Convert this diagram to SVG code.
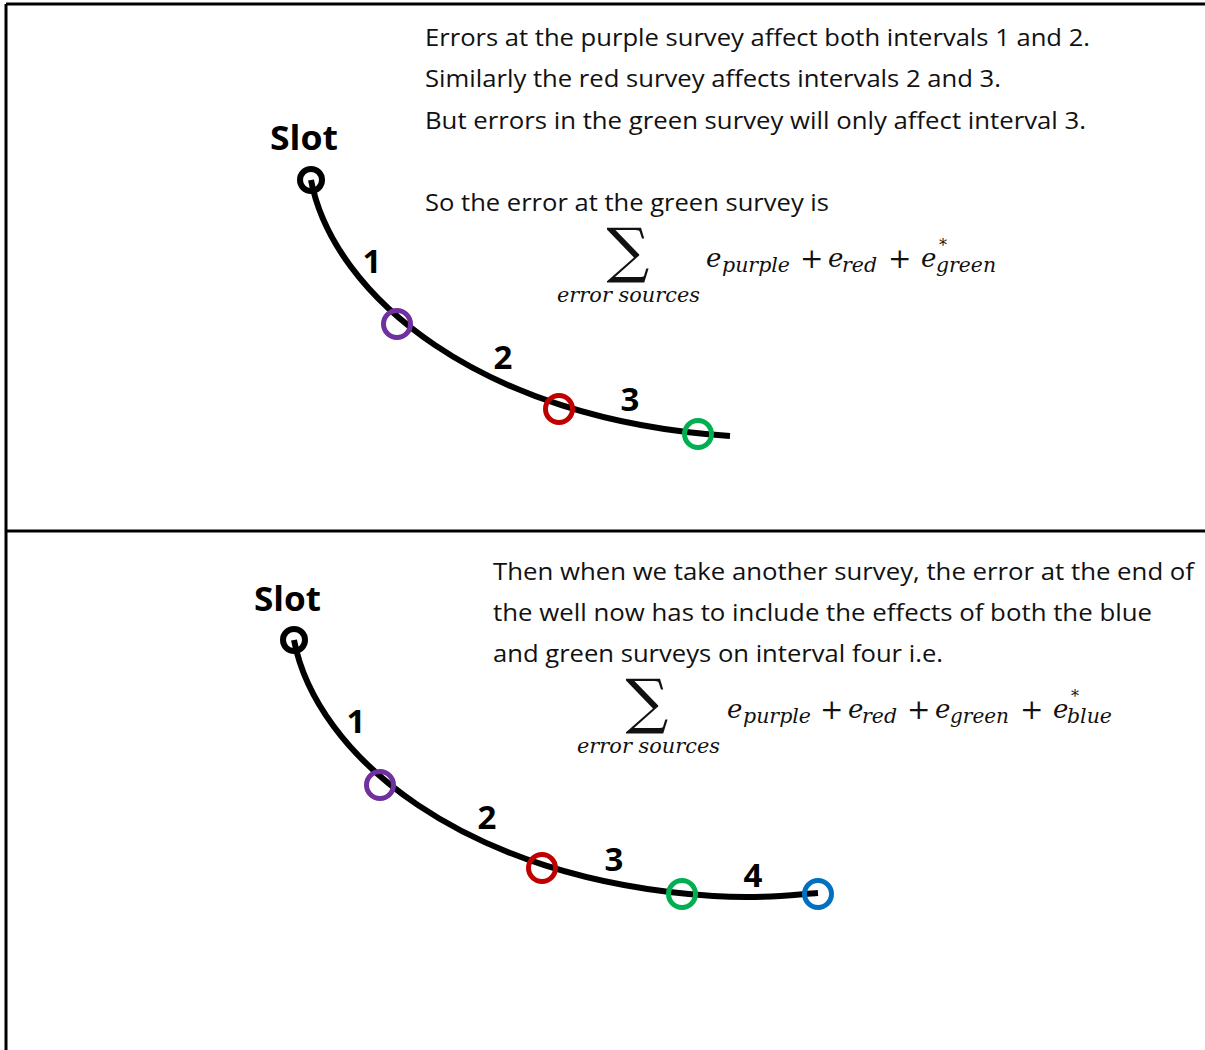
<svg xmlns="http://www.w3.org/2000/svg" width="1205" height="1050" viewBox="0 0 1205 1050">
<style>
.t{font-family:"Open Sans","Liberation Sans",sans-serif;font-size:24px;fill:#111}
.b{font-family:"Open Sans","Liberation Sans",sans-serif;font-weight:bold;fill:#000}
.m{font-family:"DejaVu Serif","Liberation Serif",serif;font-style:italic;fill:#111}
.s{font-family:"DejaVu Serif","Liberation Serif",serif;fill:#111}
.well{fill:none;stroke:#000;stroke-width:6}
.ring{fill:none;stroke-width:5}
.slot{fill:none;stroke:#000;stroke-width:6}
</style>
<rect width="1205" height="1050" fill="#fff"/>
<g id="frame" stroke="#000" stroke-width="3">
<line x1="6" y1="4" x2="1205" y2="4"/>
<line x1="6" y1="4" x2="6" y2="1050"/>
<line x1="6" y1="531" x2="1205" y2="531"/>
</g>
<g id="connectors">
<path class="well" d="M311,180 C333,295 480,420 730,436"/>
<path class="well" d="M294,640 C316,755 463,880 713,896 C760,899 790,895 818,893"/>
</g>
<g id="top-panel">
<g id="slot-top"><text class="b" x="270" y="150" font-size="34" textLength="68" lengthAdjust="spacingAndGlyphs">Slot</text><circle class="slot" cx="311" cy="180" r="11"/></g>
<g id="purple-top"><circle class="ring" cx="397" cy="324" r="13.5" stroke="#7030A0"/></g>
<g id="red-top"><circle class="ring" cx="559" cy="409" r="13.5" stroke="#C00000"/></g>
<g id="green-top"><circle class="ring" cx="698" cy="434" r="13.5" stroke="#00B050"/></g>
<g id="labels-top">
<text class="b" x="372" y="273" font-size="33" text-anchor="middle">1</text>
<text class="b" x="503" y="369" font-size="33" text-anchor="middle">2</text>
<text class="b" x="630" y="411" font-size="33" text-anchor="middle">3</text>
</g>
<g id="text-top">
<text class="t" x="425" y="46" textLength="665" lengthAdjust="spacingAndGlyphs">Errors at the purple survey affect both intervals 1 and 2.</text>
<text class="t" x="425" y="87" textLength="576" lengthAdjust="spacingAndGlyphs">Similarly the red survey affects intervals 2 and 3.</text>
<text class="t" x="425" y="129" textLength="661" lengthAdjust="spacingAndGlyphs">But errors in the green survey will only affect interval 3.</text>
<text class="t" x="425" y="211" textLength="404" lengthAdjust="spacingAndGlyphs">So the error at the green survey is</text>
</g>
<g id="formula-top">
<text class="s" x="628" y="271" font-size="60" text-anchor="middle">∑</text>
<text class="m" x="557" y="302" font-size="20" textLength="143" lengthAdjust="spacingAndGlyphs">error sources</text>
<text class="m" x="706" y="267" font-size="26">e</text>
<text class="m" x="722" y="272" font-size="20" textLength="68" lengthAdjust="spacingAndGlyphs">purple</text>
<text class="s" x="800" y="268" font-size="28">+</text>
<text class="m" x="828" y="267" font-size="26">e</text>
<text class="m" x="842" y="272" font-size="20" textLength="35" lengthAdjust="spacingAndGlyphs">red</text>
<text class="s" x="888" y="268" font-size="28">+</text>
<text class="m" x="921" y="267" font-size="26">e</text>
<text class="s" x="939" y="251" font-size="16">*</text>
<text class="m" x="936" y="272" font-size="20" textLength="60" lengthAdjust="spacingAndGlyphs">green</text>
</g>
</g>
<g id="bottom-panel">
<g id="slot-bottom"><text class="b" x="254" y="611" font-size="34" textLength="67" lengthAdjust="spacingAndGlyphs">Slot</text><circle class="slot" cx="294" cy="640" r="11"/></g>
<g id="purple-bottom"><circle class="ring" cx="380" cy="785" r="13.5" stroke="#7030A0"/></g>
<g id="red-bottom"><circle class="ring" cx="542" cy="868" r="13.5" stroke="#C00000"/></g>
<g id="green-bottom"><circle class="ring" cx="682" cy="894" r="13.5" stroke="#00B050"/></g>
<g id="blue-bottom"><circle class="ring" cx="818" cy="894" r="13.5" stroke="#0070C0"/></g>
<g id="labels-bottom">
<text class="b" x="356" y="733" font-size="33" text-anchor="middle">1</text>
<text class="b" x="487" y="829" font-size="33" text-anchor="middle">2</text>
<text class="b" x="614" y="871" font-size="33" text-anchor="middle">3</text>
<text class="b" x="753" y="887" font-size="33" text-anchor="middle">4</text>
</g>
<g id="text-bottom">
<text class="t" x="493" y="580" textLength="701" lengthAdjust="spacingAndGlyphs">Then when we take another survey, the error at the end of</text>
<text class="t" x="493" y="621" textLength="659" lengthAdjust="spacingAndGlyphs">the well now has to include the effects of both the blue</text>
<text class="t" x="493" y="662" textLength="450" lengthAdjust="spacingAndGlyphs">and green surveys on interval four i.e.</text>
</g>
<g id="formula-bottom">
<text class="s" x="647" y="722" font-size="60" text-anchor="middle">∑</text>
<text class="m" x="577" y="753" font-size="20" textLength="143" lengthAdjust="spacingAndGlyphs">error sources</text>
<text class="m" x="727" y="718" font-size="26">e</text>
<text class="m" x="743" y="723" font-size="20" textLength="68" lengthAdjust="spacingAndGlyphs">purple</text>
<text class="s" x="820" y="719" font-size="28">+</text>
<text class="m" x="848" y="718" font-size="26">e</text>
<text class="m" x="862" y="723" font-size="20" textLength="35" lengthAdjust="spacingAndGlyphs">red</text>
<text class="s" x="907" y="719" font-size="28">+</text>
<text class="m" x="935" y="718" font-size="26">e</text>
<text class="m" x="950" y="723" font-size="20" textLength="59" lengthAdjust="spacingAndGlyphs">green</text>
<text class="s" x="1020" y="719" font-size="28">+</text>
<text class="m" x="1053" y="718" font-size="26">e</text>
<text class="s" x="1071" y="702" font-size="16">*</text>
<text class="m" x="1067" y="723" font-size="20" textLength="45" lengthAdjust="spacingAndGlyphs">blue</text>
</g>
</g>
</svg>
